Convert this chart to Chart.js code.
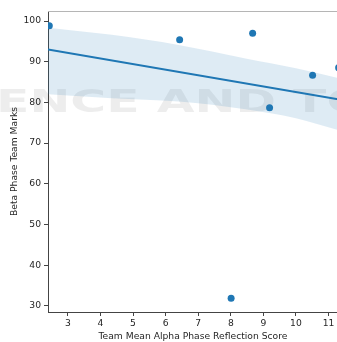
<!DOCTYPE html>
<html>
<head>
<meta charset="utf-8">
<script src="https://cdn.jsdelivr.net/npm/chart.js@4.4.0/dist/chart.umd.min.js"></script>
<style>
html, body { margin: 0; padding: 0; background: #fff; overflow: hidden; }
/* a bit wider than the window: the axes run off the right edge of the picture */
#dibujo { width: 342px; height: 342px; }
</style>
</head>
<body>
<div id="dibujo"><canvas id="myChart"></canvas></div>
<script>
// points
var xVals = [2.43, 6.43, 8.67, 9.19, 10.51, 8.01, 11.31];
var yVals = [98.85, 95.4, 96.98, 78.7, 86.66, 31.9, 88.5];

// regression line and its confidence band
var fitX = [2.39, 11.29];
var fitY = [93.0, 80.8];
var bandX = [2.39, 4.35, 6.4, 8.45, 10.0, 11.29];
var bandUpper = [98.35, 96.6, 94.1, 90.8, 88.4, 86.0];
var bandLower = [82.0, 81.0, 80.2, 78.3, 76.1, 73.2];

var xTicks = [3, 4, 5, 6, 7, 8, 9, 10, 11];
var yTicks = [30, 40, 50, 60, 70, 80, 90, 100];
var xRange = [2.39, 11.29];
var yRange = [28.5, 102.46];

var xTitle = 'Team Mean Alpha Phase Reflection Score';
var yTitle = 'Beta Phase Team Marks';
var marca = 'ENCE AND TO';

var azul = '#1f77b4';
var texto = '#262626';

function pares(xs, ys){
    return xs.map(function(x, i){ return {x: x, y: ys[i]}; });
}

// top spine, lighter than the others
var bordeArriba = {
    id: 'bordeArriba',
    afterDraw: function(chart){
        var a = chart.chartArea, c = chart.ctx;
        c.save();
        c.strokeStyle = '#b5b5b5';
        c.lineWidth = 1;
        c.beginPath();
        c.moveTo(a.left, a.top + 0.5);
        c.lineTo(a.right, a.top + 0.5);
        c.stroke();
        c.restore();
    }
};

// faint watermark text behind the marks
var fondo = {
    id: 'fondo',
    beforeDatasetsDraw: function(chart){
        var c = chart.ctx;
        c.save();
        c.font = 'bold 32px "DejaVu Sans"';
        var w = c.measureText(marca).width;
        c.fillStyle = 'rgba(0,0,0,0.07)';
        c.textBaseline = 'alphabetic';
        c.translate(-4, 112);
        c.scale(372 / w, 1);
        c.fillText(marca, 0, 0);
        c.restore();
    }
};

Chart.defaults.font.family = '"DejaVu Sans", sans-serif';

function barra(){
    var ctx = document.getElementById('myChart').getContext('2d');
    var chart = new Chart(ctx, {
    type: 'scatter',
    data: {
        datasets: [{
            data: pares(xVals, yVals),
            backgroundColor: azul,
            borderColor: azul,
            pointRadius: 3.5,
            pointBorderWidth: 0,
            clip: 0
        }, {
            type: 'line',
            data: pares(fitX, fitY),
            borderColor: azul,
            borderWidth: 2,
            pointRadius: 0,
            fill: false,
            clip: 0
        }, {
            type: 'line',
            data: pares(bandX, bandUpper),
            borderWidth: 0,
            borderColor: 'rgba(0,0,0,0)',
            backgroundColor: 'rgba(31,119,180,0.15)',
            pointRadius: 0,
            cubicInterpolationMode: 'monotone',
            fill: '+1',
            clip: 0
        }, {
            type: 'line',
            data: pares(bandX, bandLower),
            borderWidth: 0,
            borderColor: 'rgba(0,0,0,0)',
            pointRadius: 0,
            cubicInterpolationMode: 'monotone',
            fill: false,
            clip: 0
        }]
    },
    options: {
        responsive: true,
        maintainAspectRatio: false,
        animation: false,
        layout: {padding: {top: 11, right: 0, left: 0, bottom: 0}},
        plugins: {legend: {display: false}, tooltip: {enabled: false}},
        scales: {
            x: {
                type: 'linear',
                min: xRange[0],
                max: xRange[1],
                afterBuildTicks: function(s){ s.ticks = xTicks.map(function(v){ return {value: v}; }); },
                afterFit: function(s){ s.height = 30; s.paddingLeft = 0; s.paddingRight = 0; },
                ticks: {color: texto, font: {size: 9.2}, padding: 2, autoSkip: false, maxRotation: 0},
                grid: {display: true, drawOnChartArea: false, drawTicks: true, tickLength: 4, color: '#444'},
                border: {display: true, color: '#444', width: 1},
                title: {display: true, text: xTitle, color: texto, font: {size: 9.2}, padding: {top: 0, bottom: 0}}
            },
            y: {
                type: 'linear',
                min: yRange[0],
                max: yRange[1],
                afterBuildTicks: function(s){ s.ticks = yTicks.map(function(v){ return {value: v}; }); },
                afterFit: function(s){ s.width = 48; s.paddingTop = 0; s.paddingBottom = 0; },
                ticks: {color: texto, font: {size: 9.2}, padding: 3, autoSkip: false},
                grid: {display: true, drawOnChartArea: false, drawTicks: true, tickLength: 4, color: '#444'},
                border: {display: true, color: '#444', width: 1},
                title: {display: true, text: yTitle, color: texto, font: {size: 9.2}, padding: {top: 8.6, bottom: 0}}
            }
        }
    },
    plugins: [fondo, bordeArriba]
});
}
barra();
</script>
</body>
</html>
